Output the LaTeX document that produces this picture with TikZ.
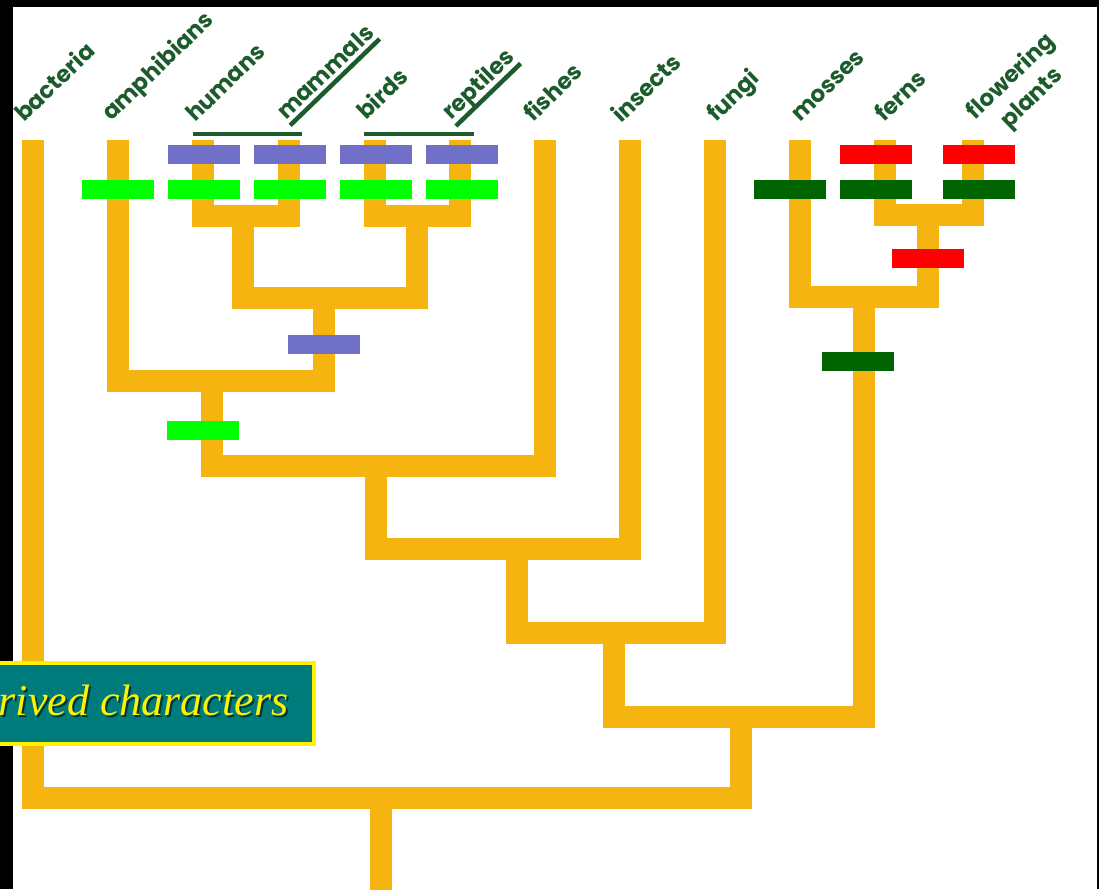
\documentclass[tikz,border=0pt]{standalone}
\usepackage{fontspec}
\usepackage{tikz}
\newfontfamily\taxonfont{Poppins}
\newfontfamily\legendfont{Liberation Serif}
\definecolor{branchorange}{RGB}{245,180,15}
\definecolor{traitpurple}{RGB}{112,112,200}
\definecolor{traitgreen}{RGB}{0,255,0}
\definecolor{traitdark}{RGB}{0,100,0}
\definecolor{traitred}{RGB}{255,0,0}
\definecolor{taxongreen}{RGB}{28,92,44}
\definecolor{legendteal}{RGB}{0,123,123}

\begin{document}
\begin{tikzpicture}[x=1pt,y=-1pt,
        branch/.style={draw=branchorange, line width=22pt},
        trait/.style={minimum width=72pt, minimum height=19pt, inner sep=0pt},
        taxon/.style={rotate=44, anchor=base west, inner sep=0pt, text=taxongreen,
            font=\taxonfont\bfseries\fontsize{23pt}{30pt}\selectfont},
        clade/.style={draw=taxongreen, line width=4.5pt}]
        \clip (0,0) rectangle (1099,889);
        \fill [white] (0,0) rectangle (1099,889);
        \fill [black] (0,0) rectangle (13,889);
        \fill [black] (0,0) rectangle (1099,7);
        \fill [black] (1097,0) rectangle (1099,889);

        % tips
        \coordinate (bac) at (33,140);
        \coordinate (amp) at (118,140);
        \coordinate (hum) at (203,140);
        \coordinate (mam) at (289,140);
        \coordinate (bir) at (375,140);
        \coordinate (rep) at (460,140);
        \coordinate (fis) at (545,140);
        \coordinate (ins) at (630,140);
        \coordinate (fun) at (715,140);
        \coordinate (mos) at (800,140);
        \coordinate (fer) at (885,140);
        \coordinate (flo) at (973,140);
        % branch points
        \coordinate (hm) at (243,216);
        \coordinate (br) at (417,216);
        \coordinate (mb) at (324,298);
        \coordinate (am) at (212,381);
        \coordinate (fi) at (376,466);
        \coordinate (in) at (517,549);
        \coordinate (fu) at (614,633);
        \coordinate (ff) at (928,215);
        \coordinate (pl) at (864,297);
        \coordinate (ep) at (741,717);
        \coordinate (root) at (381,798);
        \coordinate (base) at (381,900);

        \draw [branch] (hum) |- (hm) -| (mam);
        \draw [branch] (bir) |- (br) -| (rep);
        \draw [branch] (hm) |- (mb) -| (br);
        \draw [branch] (amp) |- (am) -| (mb);
        \draw [branch] (am) |- (fi) -| (fis);
        \draw [branch] (fi) |- (in) -| (ins);
        \draw [branch] (in) |- (fu) -| (fun);
        \draw [branch] (fer) |- (ff) -| (flo);
        \draw [branch] (mos) |- (pl) -| (ff);
        \draw [branch] (fu) |- (ep) -| (pl);
        \draw [branch] (bac) |- (root) -| (ep);
        \draw [branch] (root) -- (base);

        % characters
        \node [trait, fill=traitpurple] (p1) at (204,154) {};
        \node [trait, fill=traitpurple] (p2) at (290,154) {};
        \node [trait, fill=traitpurple] (p3) at (376,154) {};
        \node [trait, fill=traitpurple] (p4) at (462,154) {};
        \node [trait, fill=traitpurple] (p5) at (324,344) {};
        \node [trait, fill=traitgreen] (g1) at (118,189) {};
        \node [trait, fill=traitgreen] (g2) at (204,189) {};
        \node [trait, fill=traitgreen] (g3) at (290,189) {};
        \node [trait, fill=traitgreen] (g4) at (376,189) {};
        \node [trait, fill=traitgreen] (g5) at (462,189) {};
        \node [trait, fill=traitgreen] (g6) at (203,430) {};
        \node [trait, fill=traitred] (r1) at (876,154) {};
        \node [trait, fill=traitred] (r2) at (979,154) {};
        \node [trait, fill=traitred] (r3) at (928,258) {};
        \node [trait, fill=traitdark] (d1) at (790,189) {};
        \node [trait, fill=traitdark] (d2) at (876,189) {};
        \node [trait, fill=traitdark] (d3) at (979,189) {};
        \node [trait, fill=traitdark] (d4) at (858,361) {};

        % taxa
        \node [taxon] (bacL) at (24,123) {bacteria};
        \node [taxon] (ampL) at (111,122) {amphibians};
        \node [taxon] (humL) at (195,123) {humans};
        \node [taxon] (mamL) at (286,121) {mammals};
        \node [taxon] (birL) at (366,121) {birds};
        \node [taxon] (repL) at (451,121) {reptiles};
        \node [taxon] (fisL) at (533,123) {fishes};
        \node [taxon] (insL) at (621,124) {insects};
        \node [taxon] (funL) at (716,123) {fungi};
        \node [taxon] (mosL) at (800,123) {mosses};
        \node [taxon] (ferL) at (884,123) {ferns};
        \node [taxon, anchor=center, align=center] (floL) at (1022,88) {flowering\\plants};

        \draw [clade] (193,134) -- (302,134);
        \draw [clade] (364,134) -- (474,134);
        \draw [clade] ([shift={(-46:6pt)}]mamL.base west) -- ([shift={(-46:6pt)}]mamL.base east);
        \draw [clade] ([shift={(-46:7pt)}]repL.base west) -- ([shift={(-46:7pt)}]repL.base east);

        % legend
        \draw [fill=legendteal, draw=yellow, line width=4pt] (-10,663) rectangle (314,744);
        \node [anchor=base east, text=black, opacity=0.55, font=\legendfont\itshape\fontsize{44pt}{48pt}\selectfont] at (294,717) {rived characters};
        \node [anchor=base east, text=yellow, font=\legendfont\itshape\fontsize{44pt}{48pt}\selectfont] (legend) at (292,715) {rived characters};
\end{tikzpicture}
\end{document}
